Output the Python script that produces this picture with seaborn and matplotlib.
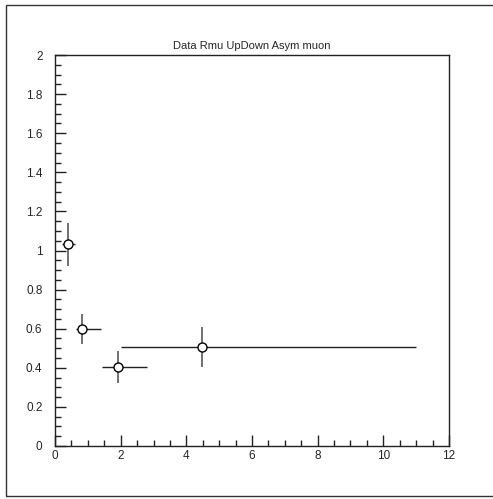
import matplotlib
matplotlib.use("Agg")
import matplotlib.pyplot as plt
import matplotlib.patches as patches
from matplotlib.ticker import MultipleLocator
import numpy as np
import pandas as pd
import seaborn as sns

# Measured asymmetry per bin: centre, bin edges and vertical uncertainty
x_center = [0.40, 0.81, 1.91, 4.49]
x_low = [0.20, 0.63, 1.42, 2.02]
x_high = [0.61, 1.41, 2.80, 11.0]
y_value = [1.032, 0.597, 0.403, 0.505]
y_error = [0.110, 0.077, 0.083, 0.102]

title = "Data Rmu UpDown Asym muon"
x_ticks = [0, 2, 4, 6, 8, 10, 12]
y_ticks = [0, 0.2, 0.4, 0.6, 0.8, 1, 1.2, 1.4, 1.6, 1.8, 2]

df = pd.DataFrame({"x": x_center, "y": y_value, "ey": y_error,
                   "xlo": x_low, "xhi": x_high})

sns.set_style("white")
plt.rcParams["font.family"] = ["Liberation Sans", "DejaVu Sans"]

fig = plt.figure(figsize=(4.93, 4.99), dpi=100)
ax = fig.add_axes([55 / 493, 1 - 446 / 499, 394 / 493, 391 / 499])

# Outer canvas frame
fig.patches.append(patches.Rectangle((6 / 493, 1 - 496 / 499), 1.05, 491 / 499,
                                     transform=fig.transFigure, fill=False,
                                     edgecolor="#333333", linewidth=1.0))

xerr = np.vstack([df["x"] - df["xlo"], df["xhi"] - df["x"]])
ax.errorbar(df["x"], df["y"], xerr=xerr, fmt="none", ecolor="#222222",
            elinewidth=1.0, capsize=0, zorder=2)
ax.errorbar(df["x"], df["y"], yerr=df["ey"], fmt="none", ecolor="#666666",
            elinewidth=1.3, capsize=0, zorder=2)
sns.scatterplot(data=df, x="x", y="y", ax=ax, marker="o", s=42,
                facecolor="white", edgecolor="black", linewidth=1.0,
                zorder=3, legend=False)

ax.set_xlim(0, 12)
ax.set_ylim(0, 2)
ax.set_xticks(x_ticks)
ax.set_xticklabels([str(t) for t in x_ticks])
ax.set_yticks(y_ticks)
ax.set_yticklabels([("%g" % t) for t in y_ticks])
ax.xaxis.set_minor_locator(MultipleLocator(0.5))
ax.yaxis.set_minor_locator(MultipleLocator(0.05))
ax.tick_params(axis="both", which="major", direction="in", length=8,
               width=1.0, color="#222222", labelsize=8.5, pad=3)
ax.tick_params(axis="both", which="minor", direction="in", length=4,
               width=1.0, color="#222222")
ax.tick_params(axis="y", which="both", left=True, right=False)
ax.tick_params(axis="x", which="both", bottom=True, top=False)
ax.tick_params(axis="y", which="major", pad=9)
for side in ["left", "right", "top", "bottom"]:
    ax.spines[side].set_visible(True)
    ax.spines[side].set_color("#222222")
    ax.spines[side].set_linewidth(1.0)
ax.set_xlabel("")
ax.set_ylabel("")
ax.set_title(title, fontsize=8, pad=4)

fig.savefig("out.png", dpi=100)
